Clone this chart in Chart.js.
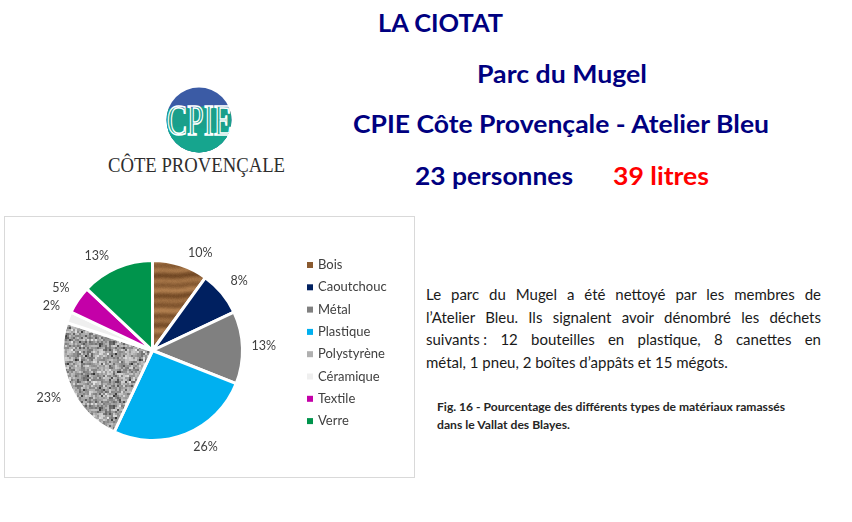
<!DOCTYPE html>
<html>
<head>
<meta charset="utf-8">
<script src="https://cdn.jsdelivr.net/npm/chart.js@4"></script>
<style>
  html, body { margin:0; padding:0; background:#fff; }
  body { width:852px; height:522px; position:relative; overflow:hidden; font-family: Lato, "Open Sans", sans-serif; }
  #overlay { position:absolute; left:0; top:0; }
  #box { position:absolute; left:4px; top:216px; width:409px; height:260px; border:1px solid #d9d9d9; }
  #box canvas { position:absolute; left:0; top:0; }
  #para { position:absolute; left:426px; top:283px; width:395px; color:#1a1a1a; font-size:15px; line-height:22.6px; }
  #para div { white-space:nowrap; text-align:justify; text-align-last:justify; }
  #para div.last { text-align-last:left; }
</style>
</head>
<body>
<svg id="overlay" width="852" height="522" xmlns="http://www.w3.org/2000/svg">
  <g font-family="Lato, 'Open Sans', sans-serif" font-weight="bold" font-size="25">
    <text x="378" y="32" fill="#000080" textLength="125" lengthAdjust="spacingAndGlyphs">LA CIOTAT</text>
    <text x="477" y="83" fill="#000080" textLength="170" lengthAdjust="spacingAndGlyphs">Parc du Mugel</text>
    <text x="353" y="133" fill="#000080" textLength="416" lengthAdjust="spacingAndGlyphs">CPIE Côte Provençale - Atelier Bleu</text>
    <text x="415" y="185" fill="#000080" textLength="158" lengthAdjust="spacingAndGlyphs">23 personnes</text>
    <text x="613" y="185" fill="#ff0000" textLength="96" lengthAdjust="spacingAndGlyphs">39 litres</text>
  </g>
  <!-- logo -->
  <defs>
    <clipPath id="logoClip"><circle cx="199" cy="120" r="32.5"/></clipPath>
  </defs>
  <g clip-path="url(#logoClip)">
    <rect x="160" y="85" width="80" height="70" fill="#3b5ba5"/>
    <path d="M160 112 C175 104, 185 110, 199 107 C212 104, 222 110, 240 106 L240 160 L160 160 Z" fill="#1a9f8b"/>
    <path d="M160 128 C178 124, 200 132, 240 126 L240 160 L160 160 Z" fill="#16a58e"/>
  </g>
  <text x="167" y="135" font-family="'Liberation Serif', 'DejaVu Serif', serif" font-size="44" fill="none" stroke="#ffffff" stroke-width="1.6" textLength="65" lengthAdjust="spacingAndGlyphs">CPIE</text>
  <text x="108" y="172" font-family="'Liberation Serif', 'DejaVu Serif', serif" font-size="21" fill="#2e2e2e" textLength="177" lengthAdjust="spacingAndGlyphs">CÔTE PROVENÇALE</text>
  <!-- caption -->
  <g font-family="Lato, 'Open Sans', sans-serif" font-weight="bold" font-size="10.5" fill="#262626">
    <text x="437" y="411" textLength="348" lengthAdjust="spacingAndGlyphs">Fig. 16 - Pourcentage des différents types de matériaux ramassés</text>
    <text x="437" y="429" textLength="133" lengthAdjust="spacingAndGlyphs">dans le Vallat des Blayes.</text>
  </g>
</svg>

<div id="box"><canvas id="c" width="409" height="260"></canvas></div>

<div id="para">
  <div>Le parc du Mugel a été nettoyé par les membres de</div>
  <div>l’Atelier Bleu. Ils signalent avoir dénombré les déchets</div>
  <div>suivants&#8239;: 12 bouteilles en plastique, 8 canettes en</div>
  <div class="last">métal, 1 pneu, 2 boîtes d’appâts et 15 mégots.</div>
</div>

<script>
// ---- data ----
const categories = ['Bois', 'Caoutchouc', 'Métal', 'Plastique', 'Polystyrène', 'Céramique', 'Textile', 'Verre'];
const values = [10, 8, 13, 26, 23, 2, 5, 13];
const percentLabels = ['10%', '8%', '13%', '26%', '23%', '2%', '5%', '13%'];

// ---- textures (deterministic) ----
function hash(x, y) {
  let n = Math.imul(x, 374761393) + Math.imul(y, 668265263);
  n = Math.imul(n ^ (n >>> 13), 1274126177);
  n = n ^ (n >>> 16);
  return (n >>> 0) / 4294967296;
}
function woodPattern(ctx) {
  const S = 90;
  const c = document.createElement('canvas'); c.width = S; c.height = S;
  const g = c.getContext('2d');
  const img = g.createImageData(S, S);
  const dark = [104, 64, 30], light = [176, 126, 78];
  for (let y = 0; y < S; y++) for (let x = 0; x < S; x++) {
    const t = y + 0.9 * Math.sin(2 * Math.PI * x / S * 1) + 0.4 * Math.sin(2 * Math.PI * x / S * 3);
    let b = 0.5 + 0.5 * Math.sin(2 * Math.PI * t / S * 9);
    b = 0.55 * b + 0.3 * (0.5 + 0.5 * Math.sin(2 * Math.PI * t / S * 4 + 1)) + 0.15;
    b += (hash(x, y) - 0.5) * 0.12;
    b = Math.max(0, Math.min(1, b));
    const i = (y * S + x) * 4;
    img.data[i] = dark[0] + (light[0] - dark[0]) * b;
    img.data[i + 1] = dark[1] + (light[1] - dark[1]) * b;
    img.data[i + 2] = dark[2] + (light[2] - dark[2]) * b;
    img.data[i + 3] = 255;
  }
  g.putImageData(img, 0, 0);
  return ctx.createPattern(c, 'repeat');
}
function granitePattern(ctx) {
  const S = 64;
  const c = document.createElement('canvas'); c.width = S; c.height = S;
  const g = c.getContext('2d');
  const img = g.createImageData(S, S);
  for (let y = 0; y < S; y++) for (let x = 0; x < S; x++) {
    const a = hash(x >> 1, y >> 1);
    const b = hash((x >> 2) + 1000, (y >> 2) + 1000);
    const d = hash((x >> 1) + 5000, (y >> 1) + 5000);
    let v = 165 + (a - 0.5) * 80 + (b - 0.5) * 60;
    if (d < 0.12) v -= 65;
    v = Math.max(45, Math.min(235, v));
    const i = (y * S + x) * 4;
    img.data[i] = v; img.data[i + 1] = v; img.data[i + 2] = v; img.data[i + 3] = 255;
  }
  g.putImageData(img, 0, 0);
  return ctx.createPattern(c, 'repeat');
}

const canvas = document.getElementById('c');
const ctx2d = canvas.getContext('2d');
const colors = [
  woodPattern(ctx2d), '#002060', '#808080', '#00b0f0',
  granitePattern(ctx2d), '#efefef', '#c400a8', '#00944c'
];
const legendSwatch = ['#8a5a30', '#002060', '#808080', '#00b0f0', '#b0b0b0', '#efefef', '#c400a8', '#00944c'];

const outerLabels = {
  id: 'outerLabels',
  afterDatasetsDraw(chart) {
    const ctx = chart.ctx;
    const meta = chart.getDatasetMeta(0);
    ctx.save();
    ctx.font = '12.5px Lato, "Open Sans", sans-serif';
    ctx.fillStyle = '#404040';
    ctx.textAlign = 'center';
    ctx.textBaseline = 'middle';
    meta.data.forEach((arc, i) => {
      const mid = (arc.startAngle + arc.endAngle) / 2;
      const sx = Math.cos(mid), sy = Math.sin(mid);
      const R = arc.outerRadius + 2;
      const txt = percentLabels[i];
      const hw = ctx.measureText(txt).width / 2 + 7;
      const hh = 10.5;
      const gx = Math.max(-1, Math.min(1, sx * 4));
      const gy = Math.max(-1, Math.min(1, sy * 4));
      ctx.fillText(txt, arc.x + R * sx + hw * gx, arc.y + R * sy + hh * gy);
    });
    ctx.restore();
  }
};
const sideLegend = {
  id: 'sideLegend',
  afterDraw(chart, args, opts) {
    const ctx = chart.ctx;
    ctx.save();
    ctx.font = '13px Lato, "Open Sans", sans-serif';
    ctx.textAlign = 'left';
    ctx.textBaseline = 'middle';
    categories.forEach((name, i) => {
      const y = opts.top + i * opts.step;
      ctx.fillStyle = legendSwatch[i];
      ctx.fillRect(opts.x, y - 3, 6, 6);
      ctx.fillStyle = '#404040';
      ctx.fillText(name, opts.x + 11, y);
    });
    ctx.restore();
  }
};

new Chart(canvas, {
  type: 'pie',
  data: {
    labels: categories,
    datasets: [{
      data: values,
      backgroundColor: colors,
      borderColor: '#ffffff',
      borderWidth: 3
    }]
  },
  options: {
    responsive: false,
    animation: false,
    layout: { padding: { left: 56, top: 42, right: 170, bottom: 35 } },
    plugins: {
      legend: { display: false },
      tooltip: { enabled: false },
      sideLegend: { x: 302, top: 48, step: 22.3 }
    }
  },
  plugins: [outerLabels, sideLegend]
});
</script>
</body>
</html>
